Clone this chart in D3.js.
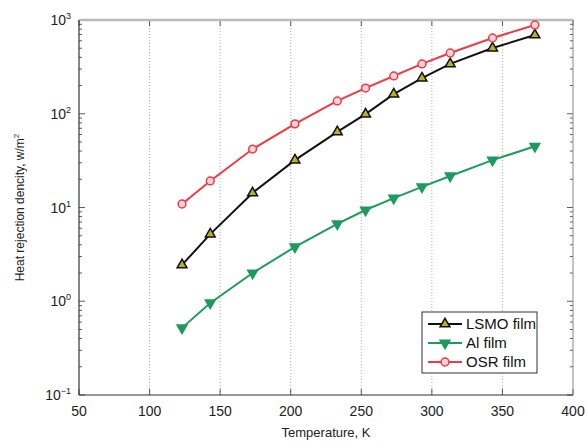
<!DOCTYPE html>
<html>
<head>
<meta charset="utf-8">
<script src="https://cdn.jsdelivr.net/npm/d3@7"></script>
<style>
  body { margin: 0; background: #fff; }
  text { font-family: "Liberation Sans", Arial, sans-serif; }
</style>
</head>
<body>
<script>
const temps = [123, 143, 173, 203, 233, 253, 273, 293, 313, 343, 373];
const lsmo = [2.44, 5.2, 14.3, 32, 64, 99, 162, 240, 340, 502, 692];
const al = [0.52, 0.96, 2.0, 3.8, 6.7, 9.4, 12.6, 16.6, 21.7, 32, 45];
const osr = [10.9, 19.2, 42, 78, 137, 188, 253, 340, 445, 643, 885];
const xTicks = [50, 100, 150, 200, 250, 300, 350, 400];
const yExps = [-1, 0, 1, 2, 3];

const W = 588, H = 443;
const m = {left: 79, right: 15, top: 20, bottom: 48};

const svg = d3.select("body").append("svg")
  .attr("width", W).attr("height", H);

const x = d3.scaleLinear().domain([50, 400]).range([m.left, W - m.right]);
const y = d3.scaleLog().domain([0.1, 1000]).range([H - m.bottom, m.top]);

const x0 = x.range()[0], x1 = x.range()[1];
const y0 = y.range()[0], y1 = y.range()[1];

// vertical dotted grid
svg.append("g")
  .selectAll("line")
  .data(xTicks.slice(1, -1))
  .enter().append("line")
  .attr("x1", d => x(d)).attr("x2", d => x(d))
  .attr("y1", y0).attr("y2", y1)
  .attr("stroke", "#999")
  .attr("stroke-width", 0.8)
  .attr("stroke-dasharray", "1,2");

// minor log ticks, left and right
const minor = [];
for (let e = -1; e < 3; e++) {
  for (let k = 2; k <= 9; k++) minor.push(k * Math.pow(10, e));
}
const major = yExps.map(e => Math.pow(10, e));
const tickG = svg.append("g").attr("stroke", "#333").attr("stroke-width", 0.8);
[[x0, 1], [x1, -1]].forEach(([xx, dir]) => {
  tickG.selectAll(null).data(minor).enter().append("line")
    .attr("x1", xx).attr("x2", xx + dir * 3)
    .attr("y1", d => y(d)).attr("y2", d => y(d));
  tickG.selectAll(null).data(major).enter().append("line")
    .attr("x1", xx).attr("x2", xx + dir * 6)
    .attr("y1", d => y(d)).attr("y2", d => y(d));
});
// x ticks top & bottom
[[y0, -1], [y1, 1]].forEach(([yy, dir]) => {
  tickG.selectAll(null).data(xTicks).enter().append("line")
    .attr("x1", d => x(d)).attr("x2", d => x(d))
    .attr("y1", yy).attr("y2", yy + dir * 6);
});

// frame
svg.append("line").attr("x1", x0).attr("x2", x1).attr("y1", y1).attr("y2", y1)
  .attr("stroke", "#bbb").attr("stroke-width", 2.5);
svg.append("line").attr("x1", x1).attr("x2", x1).attr("y1", y0).attr("y2", y1)
  .attr("stroke", "#888").attr("stroke-width", 1);
svg.append("line").attr("x1", x0).attr("x2", x0).attr("y1", y0).attr("y2", y1)
  .attr("stroke", "#333").attr("stroke-width", 1.2);
svg.append("line").attr("x1", x0).attr("x2", x1).attr("y1", y0).attr("y2", y0)
  .attr("stroke", "#333").attr("stroke-width", 1.2);

// x tick labels
svg.append("g").selectAll("text").data(xTicks).enter().append("text")
  .attr("x", d => x(d)).attr("y", y0 + 21)
  .attr("text-anchor", "middle")
  .attr("font-size", 14).attr("fill", "#222")
  .text(d => d);

// y tick labels 10^n
const yl = svg.append("g").selectAll("text").data(yExps).enter().append("text")
  .attr("x", x0 - 8).attr("y", d => y(Math.pow(10, d)) + 5)
  .attr("text-anchor", "end")
  .attr("font-size", 14).attr("fill", "#222");
yl.append("tspan").text("10");
yl.append("tspan").attr("dy", -6).attr("font-size", 9).text(d => d < 0 ? "\u22121" : d);

// axis labels
svg.append("text")
  .attr("x", (x0 + x1) / 2).attr("y", H - 6)
  .attr("text-anchor", "middle").attr("font-size", 13).attr("fill", "#222")
  .text("Temperature, K");
const ylab = svg.append("text")
  .attr("transform", `translate(24,${(y0 + y1) / 2}) rotate(-90)`)
  .attr("text-anchor", "middle").attr("font-size", 12).attr("fill", "#222");
ylab.append("tspan").text("Heat rejection dencity, w/m");
ylab.append("tspan").attr("dy", -5).attr("font-size", 8).text("2");

const series = [
  {name: "LSMO film", vals: lsmo, color: "#111", sym: d3.symbolTriangle, fill: "#b9b02a", stroke: "#111", rot: 0},
  {name: "Al film", vals: al, color: "#1f9a5e", sym: d3.symbolTriangle, fill: "#1f9a5e", stroke: "#1f9a5e", rot: 180},
  {name: "OSR film", vals: osr, color: "#ee3b45", sym: d3.symbolCircle, fill: "#fbd3d6", stroke: "#ee3b45", rot: 0}
];

const line = d3.line().x((d, i) => x(temps[i])).y(d => y(d));
const symSize = s => s.sym === d3.symbolCircle ? 48 : 42;

series.forEach(s => {
  const g = svg.append("g");
  g.append("path").datum(s.vals)
    .attr("d", line)
    .attr("fill", "none").attr("stroke", s.color).attr("stroke-width", 2);
  g.selectAll("path.m").data(s.vals).enter().append("path")
    .attr("class", "m")
    .attr("d", d3.symbol().type(s.sym).size(symSize(s)))
    .attr("transform", (d, i) => `translate(${x(temps[i])},${y(d)}) rotate(${s.rot})`)
    .attr("fill", s.fill).attr("stroke", s.stroke).attr("stroke-width", 1.5);
});

// legend
const lg = svg.append("g").attr("transform", "translate(422,312)");
lg.append("rect").attr("width", 115).attr("height", 61)
  .attr("fill", "#fff").attr("stroke", "#333").attr("stroke-width", 1);
series.forEach((s, i) => {
  const yy = 12 + i * 19;
  lg.append("line").attr("x1", 6).attr("x2", 40).attr("y1", yy).attr("y2", yy)
    .attr("stroke", s.color).attr("stroke-width", 2);
  lg.append("path")
    .attr("d", d3.symbol().type(s.sym).size(symSize(s)))
    .attr("transform", `translate(23,${yy}) rotate(${s.rot})`)
    .attr("fill", s.fill).attr("stroke", s.stroke).attr("stroke-width", 1.5);
  lg.append("text").attr("x", 44).attr("y", yy + 5)
    .attr("font-size", 15).attr("fill", "#111")
    .text(s.name);
});
</script>
</body>
</html>
